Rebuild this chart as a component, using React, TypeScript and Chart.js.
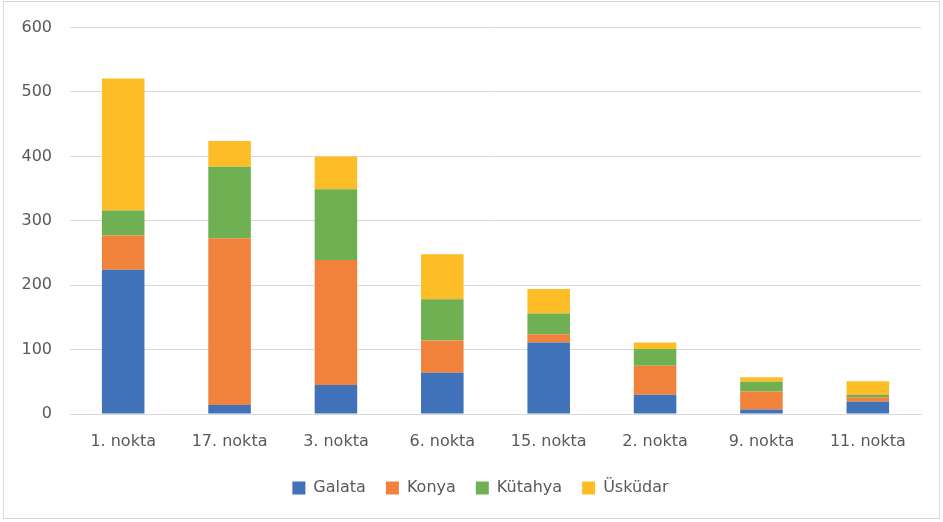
import React, { useEffect, useRef } from "react";
import { Chart, registerables } from "chart.js";

Chart.register(...registerables);

const categories = ["1. nokta", "17. nokta", "3. nokta", "6. nokta", "15. nokta", "2. nokta", "9. nokta", "11. nokta"];
const galata = [224, 14, 45, 64, 111, 30, 7, 19];
const konya = [53, 259, 194, 50, 13, 45, 28, 7];
const kutahya = [39, 111, 110, 64, 32, 26, 15, 4];
const uskudar = [205, 40, 51, 70, 38, 10, 7, 21];
const yTicks = [0, 100, 200, 300, 400, 500, 600];

const FONT = "'DejaVu Sans', sans-serif";
const TEXT = "#595959";
const GRID = "#d9d9d9";

const legendShift = {
  id: "legendShift",
  afterLayout(chart: any) {
    const lg = chart.legend;
    if (lg) {
      lg.left += 15;
      lg.right += 15;
    }
  },
};

export default function App() {
  const ref = useRef<HTMLCanvasElement | null>(null);
  useEffect(() => {
    if (!ref.current) return;
    const chart = new Chart(ref.current, {
      type: "bar",
      data: {
        labels: categories,
        datasets: [
          { label: "Galata", data: galata, backgroundColor: "#4072B9" },
          { label: "Konya", data: konya, backgroundColor: "#F0823B" },
          { label: "Kütahya", data: kutahya, backgroundColor: "#6FB053" },
          { label: "Üsküdar", data: uskudar, backgroundColor: "#FDBD26" },
        ],
      },
      plugins: [legendShift],
      options: {
        responsive: false,
        animation: false,
        maintainAspectRatio: false,
        layout: { padding: { left: 10, right: 22, top: 20, bottom: 16 } },
        datasets: { bar: { barPercentage: 0.4, categoryPercentage: 1 } },
        plugins: {
          legend: {
            position: "bottom",
            labels: {
              color: TEXT,
              font: { family: FONT, size: 16 },
              boxWidth: 13,
              boxHeight: 13,
              padding: 20,
            },
          },
          tooltip: { enabled: false },
        },
        scales: {
          x: {
            stacked: true,
            grid: { display: false, drawTicks: false },
            border: { display: true, color: GRID, width: 1 },
            ticks: { color: TEXT, font: { family: FONT, size: 16 }, padding: 18, maxRotation: 0 },
            afterFit: (s: any) => { s.height = 46; },
          },
          y: {
            stacked: true,
            min: 0,
            max: 600,
            afterBuildTicks: (s: any) => { s.ticks = yTicks.map((v) => ({ value: v })); },
            grid: { color: GRID, drawTicks: false, lineWidth: 1 },
            border: { display: false },
            ticks: { color: TEXT, font: { family: FONT, size: 16 }, padding: 18 },
            afterFit: (s: any) => { s.width = 60; },
          },
        },
      },
    });
    return () => chart.destroy();
  }, []);
  return (
    <div style={{ position: "fixed", left: 0, top: 0, width: 943, height: 522, background: "#fff" }}>
      <div style={{ position: "absolute", left: 3, top: 1, width: 935, height: 516, border: "1px solid #d9d9d9" }} />
      <canvas ref={ref} width={943} height={522} style={{ position: "absolute", left: 0, top: 0 }} />
    </div>
  );
}
